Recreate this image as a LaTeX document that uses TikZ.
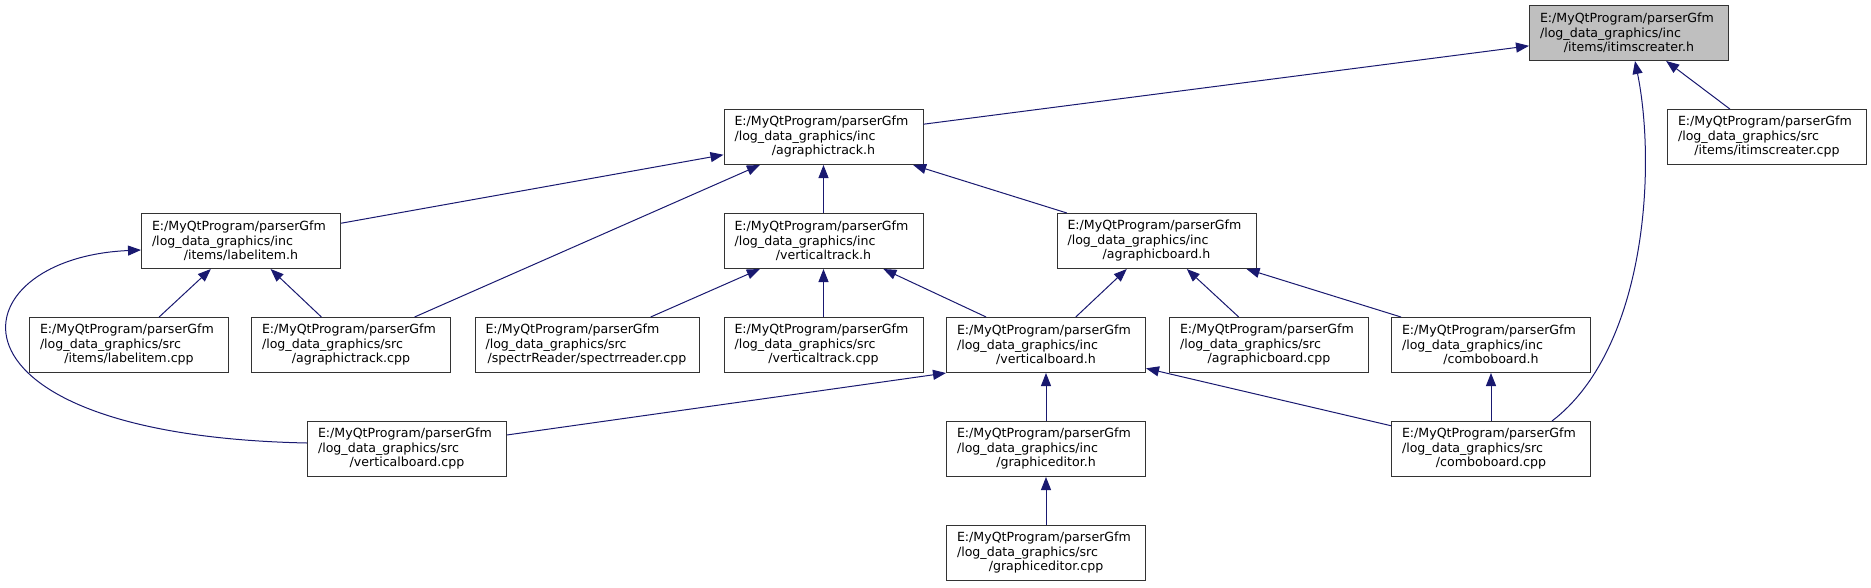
\documentclass[tikz,border=0pt]{standalone}
\usepackage{fontspec}
\setmainfont{DejaVu Sans}
\usetikzlibrary{arrows.meta}
\definecolor{edgeblue}{HTML}{191970}
\definecolor{curgray}{HTML}{BFBFBF}

\begin{document}
\begin{tikzpicture}[x=1pt,y=-1pt,>={Triangle[length=13pt,width=10pt]},
  font=\fontsize{12.6}{14.5}\selectfont,
  filebox/.style={draw=black!80,line width=1pt,fill=white,inner xsep=10.5pt,inner ysep=0pt,
    text width=178pt,minimum height=55pt},
  widebox/.style={text width=203pt},
  current/.style={fill=curgray},
  incl/.style={->,draw=edgeblue,line width=1pt}]
% three-line file label: two lines left, last line centred
\newcommand{\incfile}[3]{\raggedright #1\\#2\par{\centering #3\par}}
\useasboundingbox (0,0) rectangle (1871,587);
% --- row 0 / 1 ---
\node[filebox,current] (itimsh) at (1629,33) {\incfile{E:/MyQtProgram/parserGfm}{/log\_data\_graphics/inc}{/items/itimscreater.h}};
\node[filebox] (agtrh) at (823.5,137) {\incfile{E:/MyQtProgram/parserGfm}{/log\_data\_graphics/inc}{/agraphictrack.h}};
\node[filebox] (itimscpp) at (1767,137) {\incfile{E:/MyQtProgram/parserGfm}{/log\_data\_graphics/src}{/items/itimscreater.cpp}};
% --- row 2 ---
\node[filebox] (lih) at (241,241) {\incfile{E:/MyQtProgram/parserGfm}{/log\_data\_graphics/inc}{/items/labelitem.h}};
\node[filebox] (vtrh) at (823.5,241) {\incfile{E:/MyQtProgram/parserGfm}{/log\_data\_graphics/inc}{/verticaltrack.h}};
\node[filebox] (agbh) at (1156.5,241) {\incfile{E:/MyQtProgram/parserGfm}{/log\_data\_graphics/inc}{/agraphicboard.h}};
% --- row 3 ---
\node[filebox] (licpp) at (129,345) {\incfile{E:/MyQtProgram/parserGfm}{/log\_data\_graphics/src}{/items/labelitem.cpp}};
\node[filebox] (agtrcpp) at (351,345) {\incfile{E:/MyQtProgram/parserGfm}{/log\_data\_graphics/src}{/agraphictrack.cpp}};
\node[filebox,widebox] (spcpp) at (587,345) {\incfile{E:/MyQtProgram/parserGfm}{/log\_data\_graphics/src}{/spectrReader/spectrreader.cpp}};
\node[filebox] (vtrcpp) at (823.5,345) {\incfile{E:/MyQtProgram/parserGfm}{/log\_data\_graphics/src}{/verticaltrack.cpp}};
\node[filebox] (vbh) at (1046,345) {\incfile{E:/MyQtProgram/parserGfm}{/log\_data\_graphics/inc}{/verticalboard.h}};
\node[filebox] (agbcpp) at (1269,345) {\incfile{E:/MyQtProgram/parserGfm}{/log\_data\_graphics/src}{/agraphicboard.cpp}};
\node[filebox] (cbh) at (1491,345) {\incfile{E:/MyQtProgram/parserGfm}{/log\_data\_graphics/inc}{/comboboard.h}};
% --- row 4 / 5 ---
\node[filebox] (vbcpp) at (407,449) {\incfile{E:/MyQtProgram/parserGfm}{/log\_data\_graphics/src}{/verticalboard.cpp}};
\node[filebox] (geh) at (1046,449) {\incfile{E:/MyQtProgram/parserGfm}{/log\_data\_graphics/inc}{/graphiceditor.h}};
\node[filebox] (cbcpp) at (1491,449) {\incfile{E:/MyQtProgram/parserGfm}{/log\_data\_graphics/src}{/comboboard.cpp}};
\node[filebox] (gecpp) at (1046,553) {\incfile{E:/MyQtProgram/parserGfm}{/log\_data\_graphics/src}{/graphiceditor.cpp}};
% include edges, tip at the included file
\draw[incl] (agtrh) -- (itimsh);
\draw[incl] (itimscpp) -- (itimsh);
\draw[incl] ([xshift=61pt]cbcpp.north) .. controls (1645,350) and (1657,170) .. ([xshift=6pt]itimsh.south);
\draw[incl] (lih) -- (agtrh);
\draw[incl] (agtrcpp) -- (agtrh);
\draw[incl] (vtrh) -- (agtrh);
\draw[incl] (agbh) -- (agtrh);
\draw[incl] (licpp) -- (lih);
\draw[incl] (agtrcpp) -- (lih);
\draw[incl] ([yshift=6pt]vbcpp.west) .. controls (-75,435) and (-45,258) .. ([yshift=-9pt]lih.west);
\draw[incl] (spcpp) -- (vtrh);
\draw[incl] (vtrcpp) -- (vtrh);
\draw[incl] (vbh) -- (vtrh);
\draw[incl] (vbh) -- (agbh);
\draw[incl] (agbcpp) -- (agbh);
\draw[incl] (cbh) -- (agbh);
\draw[incl] (vbcpp) -- (vbh.south west);
\draw[incl] (geh) -- (vbh);
\draw[incl] (cbcpp) -- (vbh);
\draw[incl] (cbcpp) -- (cbh);
\draw[incl] (gecpp) -- (geh);
\end{tikzpicture}
\end{document}
